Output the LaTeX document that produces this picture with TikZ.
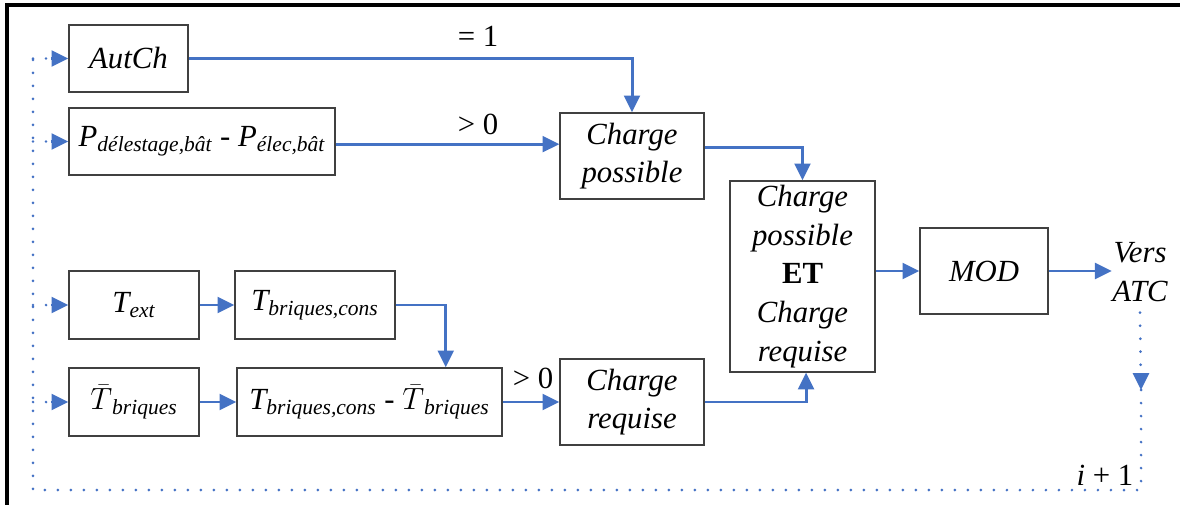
\RequirePackage{fix-cm}
\documentclass[tikz,border=0pt]{standalone}
\usepackage{fontspec}
\setmainfont{Liberation Serif}
\usetikzlibrary{arrows.meta}

\definecolor{fleche}{RGB}{68,114,196}
\definecolor{cadre}{RGB}{64,64,64}

\begin{document}
\begin{tikzpicture}[x=0.02cm, y=-0.02cm,
    bloc/.style={draw=cadre, line width=0.7pt, inner sep=0pt, align=center,
      font=\fontsize{17.5}{22}\selectfont\itshape},
    lien/.style={draw=fleche, line width=1.7pt, -{Triangle[length=9.6pt,width=9pt]}},
    boucle/.style={draw=fleche, line width=1.7pt, line cap=round,
      dash pattern=on 0pt off 7.4pt},
    etiq/.style={font=\fontsize{17.5}{21}\selectfont, inner sep=1pt}]

  \useasboundingbox (0,0) rectangle (1180,504);

% Cadre
  \draw[line width=2pt] (1185,5) -- (7,5) -- (7,510);

% Blocs
  \node[bloc, minimum width=2.38cm, minimum height=1.34cm] (autch) at (128.5,58.5) {AutCh};
  \node[bloc, minimum width=5.32cm, minimum height=1.34cm] (pdel) at (202,141.5)
    {P\textsubscript{délestage,bât} \upshape-\itshape{} P\textsubscript{élec,bât}};
  \node[bloc, minimum width=2.88cm, minimum height=1.72cm] (chpos) at (632,156) {Charge\\possible};
  \node[bloc, minimum width=2.9cm, minimum height=3.82cm] (et) at (802.5,276.5)
    {Charge\\possible\\\upshape\bfseries ET\\Charge\\requise};
  \node[bloc, minimum width=2.56cm, minimum height=1.72cm] (mod) at (984,271) {MOD};
  \node[bloc, draw=none] (vers) at (1140,272) {Vers\\ATC};

  \node[bloc, minimum width=2.6cm, minimum height=1.36cm] (text) at (134,305) {T\textsubscript{ext}};
  \node[bloc, minimum width=3.2cm, minimum height=1.36cm] (tcons) at (315,305) {T\textsubscript{briques,cons}};
  \node[bloc, minimum width=2.6cm, minimum height=1.36cm] (tbar) at (134,402)
    {$\bar{T}$\textsubscript{briques}};
  \node[bloc, minimum width=5.3cm, minimum height=1.36cm] (tdiff) at (369.5,402)
    {T\textsubscript{briques,cons} \upshape-\itshape{} $\bar{T}$\textsubscript{briques}};
  \node[bloc, minimum width=2.88cm, minimum height=1.72cm] (chreq) at (632,402) {Charge\\requise};

% Liens
  \draw[lien] (autch.east) -| (chpos.north);
  \draw[lien] ([yshift=-1.5pt]pdel.east) -- ([yshift=-1.5pt]pdel.east -| chpos.west);
  \draw[lien] ([yshift=5pt]chpos.east) -| (et.north);
  \draw[lien] (text.east) -- (tcons.west);
  \draw[lien] (tcons.east) -| ([xshift=43.4pt]tdiff.north);
  \draw[lien] (tbar.east) -- (tdiff.west);
  \draw[lien] (tdiff.east) -- (chreq.west);
  \draw[lien] (chreq.east) -| ([xshift=2pt]et.south);
  \draw[lien] (et.east |- mod.west) -- (mod.west);
  \draw[lien] (mod.east) -- (mod.east -| vers.west);

  \node[etiq] (egal) at (478,36) {= 1};
  \node[etiq] (supa) at (478,124) {> 0};
  \node[etiq] (supb) at (533,378) {> 0};

% Boucle i+1
  \coordinate (ba) at (1141,390);
  \coordinate (bb) at (1141,490);
  \coordinate (bc) at (33,490);
  \coordinate (bd) at (33,58);
  \draw[boucle] ([yshift=-6pt]vers.south) -- (ba);
  \draw[fleche, line width=1.7pt, -{Triangle[length=9.6pt,width=9pt]}] ([yshift=7pt]ba) -- (ba);
  \draw[boucle] (ba) -- (bb) -- (bc) -- (bd);
  \foreach \n in {autch,pdel,text,tbar}
    \draw[boucle] (\n.west -| bc) -- ([xshift=-9pt]\n.west);
  \foreach \n in {autch,pdel,text,tbar}
    \draw[fleche, line width=1.7pt, -{Triangle[length=9.6pt,width=9pt]}] ([xshift=-10pt]\n.west) -- (\n.west);

  \node[etiq] (iplus) at (1105,475) {\textit{i} + 1};

\end{tikzpicture}
\end{document}
